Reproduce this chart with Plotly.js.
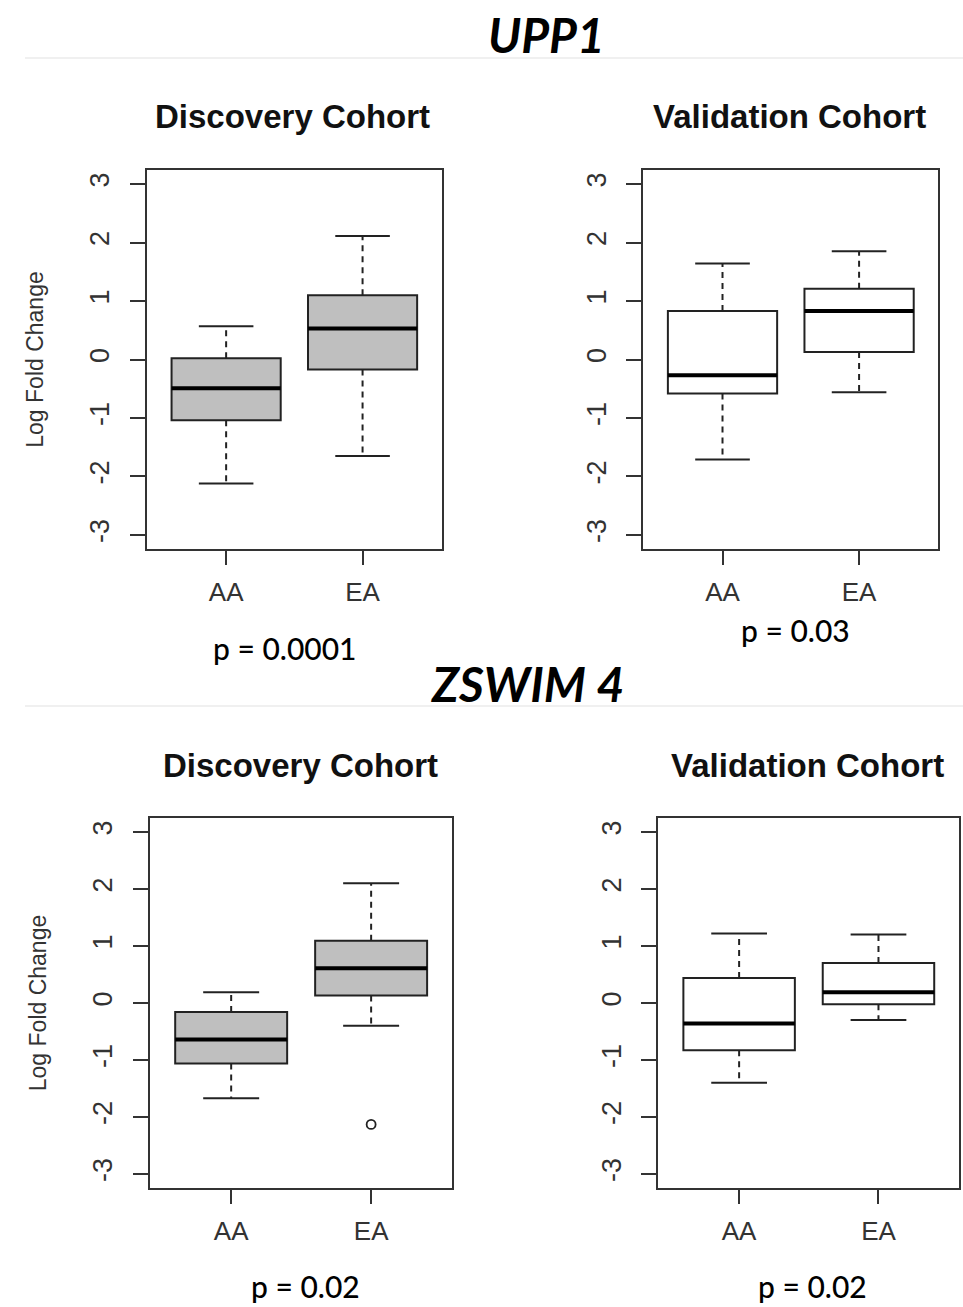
<!DOCTYPE html>
<html>
<head>
<meta charset="utf-8">
<script src="https://cdn.plot.ly/plotly-3.0.1.min.js"></script>
<style>html,body{margin:0;padding:0;background:#fff;}#chart{width:963px;height:1307px;}</style>
</head>
<body>
<div id="chart"></div>
<script>
// ---------------- data ----------------
const groups = ['AA', 'EA'];
const positions = [1, 2];
const yTicks = [-3, -2, -1, 0, 1, 2, 3];
const yTickText = ['-3', '-2', '-1', '0', '1', '2', '3'];

// UPP1 - Discovery Cohort
const upp1DiscLower  = [-2.12, -1.65];
const upp1DiscQ1     = [-1.04, -0.17];
const upp1DiscMedian = [-0.49,  0.53];
const upp1DiscQ3     = [ 0.02,  1.10];
const upp1DiscUpper  = [ 0.57,  2.11];

// UPP1 - Validation Cohort
const upp1ValLower  = [-1.71, -0.56];
const upp1ValQ1     = [-0.58,  0.13];
const upp1ValMedian = [-0.27,  0.83];
const upp1ValQ3     = [ 0.83,  1.21];
const upp1ValUpper  = [ 1.64,  1.85];

// ZSWIM 4 - Discovery Cohort
const zswDiscLower  = [-1.67, -0.40];
const zswDiscQ1     = [-1.06,  0.13];
const zswDiscMedian = [-0.64,  0.61];
const zswDiscQ3     = [-0.16,  1.09];
const zswDiscUpper  = [ 0.19,  2.10];
const zswDiscOutlierX = ['EA'];
const zswDiscOutlierY = [-2.13];

// ZSWIM 4 - Validation Cohort
const zswValLower  = [-1.40, -0.30];
const zswValQ1     = [-0.83, -0.02];
const zswValMedian = [-0.36,  0.19];
const zswValQ3     = [ 0.44,  0.70];
const zswValUpper  = [ 1.22,  1.20];

const pValues = ['p = 0.0001', 'p = 0.03', 'p = 0.02', 'p = 0.02'];
const geneTitles = ['UPP1', 'ZSWIM 4'];
const cohortTitles = ['Discovery Cohort', 'Validation Cohort'];

// ---------------- layout helpers ----------------
const W = 963, H = 1307;
const fx = v => v / W;
const fy = v => 1 - v / H;
const RFONT = 'Liberation Sans, Arial, Helvetica, sans-serif';
const CFONT = 'Lato, Open Sans, sans-serif';
const INK = '#222';

const panels = [
  {lo: upp1DiscLower, q1: upp1DiscQ1, med: upp1DiscMedian, q3: upp1DiscQ3, hi: upp1DiscUpper,
   fill: '#bfbfbf', box: [147, 441.7, 170, 549], ytitle: true, outX: [], outY: []},
  {lo: upp1ValLower, q1: upp1ValQ1, med: upp1ValMedian, q3: upp1ValQ3, hi: upp1ValUpper,
   fill: '#ffffff', box: [643.3, 938.3, 170, 549], ytitle: false, outX: [], outY: []},
  {lo: zswDiscLower, q1: zswDiscQ1, med: zswDiscMedian, q3: zswDiscQ3, hi: zswDiscUpper,
   fill: '#bfbfbf', box: [150, 452.3, 818.3, 1187.7], ytitle: true, outX: zswDiscOutlierX, outY: zswDiscOutlierY},
  {lo: zswValLower, q1: zswValQ1, med: zswValMedian, q3: zswValQ3, hi: zswValUpper,
   fill: '#ffffff', box: [658.3, 959.3, 818.3, 1187.7], ytitle: false, outX: [], outY: []}
];

const traces = [];
const layout = {
  width: W, height: H,
  margin: {l: 0, r: 0, t: 0, b: 0},
  paper_bgcolor: '#fff', plot_bgcolor: '#fff',
  showlegend: false,
  annotations: [],
  shapes: []
};

panels.forEach((p, i) => {
  const sfx = i === 0 ? '' : String(i + 1);
  const xa = 'x' + sfx, ya = 'y' + sfx;
  const segX = (off) => positions.flatMap(x => [x - off, x + off, null]);

  // dashed whiskers
  const wx = [], wy = [];
  positions.forEach((x, k) => {
    wx.push(x, x, null, x, x, null);
    wy.push(p.q3[k], p.hi[k], null, p.q1[k], p.lo[k], null);
  });
  traces.push({type: 'scatter', mode: 'lines', x: wx, y: wy, xaxis: xa, yaxis: ya,
    line: {color: INK, width: 2, dash: '6px,5px'}, hoverinfo: 'skip'});

  // whisker caps
  const cx = [], cy = [];
  positions.forEach((x, k) => {
    cx.push(x - 0.2, x + 0.2, null, x - 0.2, x + 0.2, null);
    cy.push(p.hi[k], p.hi[k], null, p.lo[k], p.lo[k], null);
  });
  traces.push({type: 'scatter', mode: 'lines', x: cx, y: cy, xaxis: xa, yaxis: ya,
    line: {color: INK, width: 2}, hoverinfo: 'skip'});

  // boxes
  traces.push({type: 'box', x: positions, q1: p.q1, median: p.med, q3: p.q3,
    lowerfence: p.q1, upperfence: p.q3, width: 0.8, whiskerwidth: 0,
    fillcolor: p.fill, line: {color: INK, width: 2}, boxpoints: false,
    xaxis: xa, yaxis: ya, hoverinfo: 'skip'});

  // thick medians
  const my = p.med.flatMap(m => [m, m, null]);
  traces.push({type: 'scatter', mode: 'lines', x: segX(0.4), y: my, xaxis: xa, yaxis: ya,
    line: {color: '#000', width: 4}, hoverinfo: 'skip'});

  // outliers
  if (p.outY.length) {
    traces.push({type: 'scatter', mode: 'markers',
      x: p.outX.map(g => positions[groups.indexOf(g)]), y: p.outY, xaxis: xa, yaxis: ya,
      marker: {symbol: 'circle-open', size: 9, color: INK, line: {width: 1.8, color: INK}},
      hoverinfo: 'skip'});
  }

  const [x0, x1, y0, y1] = p.box;
  layout['xaxis' + sfx] = {
    domain: [fx(x0), fx(x1)], anchor: ya, range: [0.42, 2.58],
    tickmode: 'array', tickvals: positions, ticktext: groups,
    ticks: 'outside', ticklen: 14, tickwidth: 2, tickcolor: '#333',
    showline: true, linecolor: '#333', linewidth: 2, mirror: true,
    showgrid: false, zeroline: false, ticklabelstandoff: 5,
    tickfont: {family: RFONT, size: 26, color: '#333'}
  };
  layout['yaxis' + sfx] = {
    domain: [fy(y1), fy(y0)], anchor: xa, range: [-3.24, 3.24],
    tickmode: 'array', tickvals: yTicks, ticktext: yTickText, tickangle: -90,
    ticks: 'outside', ticklen: 15, tickwidth: 2, tickcolor: '#333',
    showline: true, linecolor: '#333', linewidth: 2, mirror: true,
    showgrid: false, zeroline: false, ticklabelstandoff: 10,
    tickfont: {family: RFONT, size: 27, color: '#333'},
    title: p.ytitle ? {text: 'Log Fold Change', standoff: 35,
      font: {family: RFONT, size: 23, color: '#333'}} : {text: ''}
  };
});

// text annotations
const ann = (text, x, y, font) => layout.annotations.push({
  text, x: fx(x), y: fy(y), xref: 'paper', yref: 'paper',
  xanchor: 'center', yanchor: 'middle', showarrow: false, font});

const geneFont = {family: CFONT, size: 48, color: '#000', weight: 700, style: 'italic'};
const cohortFont = {family: RFONT, size: 33, color: '#111', weight: 700};
const pFont = {family: CFONT, size: 30, color: '#000', weight: 500};

ann(geneTitles[0], 546, 35, geneFont);
ann(geneTitles[1], 527, 683, geneFont);
ann(cohortTitles[0], 292, 116, cohortFont);
ann(cohortTitles[1], 789, 116, cohortFont);
ann(cohortTitles[0], 300, 765, cohortFont);
ann(cohortTitles[1], 807, 765, cohortFont);
ann(pValues[0], 285, 648, pFont);
ann(pValues[1], 795, 630, pFont);
ann(pValues[2], 305, 1286, pFont);
ann(pValues[3], 812, 1286, pFont);

// faint separators
[58, 706].forEach(yy => layout.shapes.push({type: 'line', xref: 'paper', yref: 'paper',
  x0: fx(25), x1: 1, y0: fy(yy), y1: fy(yy), line: {color: '#f0f0f0', width: 2}}));

Plotly.newPlot('chart', traces, layout, {displayModeBar: false, staticPlot: true});
</script>
</body>
</html>
